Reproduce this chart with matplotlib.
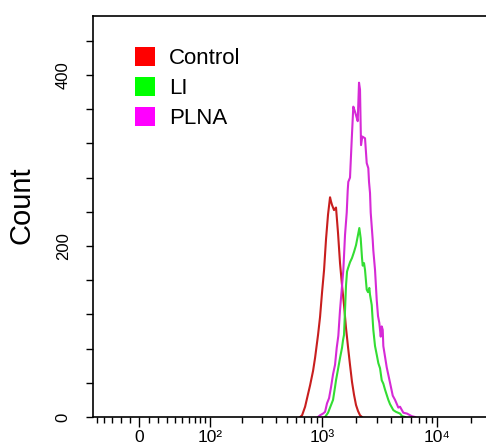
import numpy as np
import matplotlib
matplotlib.use("Agg")
import matplotlib.pyplot as plt
from matplotlib.patches import Patch
from matplotlib.ticker import FixedLocator, NullFormatter

plt.rcParams['font.family'] = ['Liberation Sans', 'DejaVu Sans']

# ---- histogram traces (fluorescence, count) ----
control_x = [647, 673, 715, 759, 790, 839, 873, 927, 965, 1005, 1046, 1088, 1133,
             1179, 1203, 1227, 1277, 1329, 1384, 1440, 1499, 1560, 1624, 1690,
             1759, 1831, 1906, 1984, 2065, 2149, 2237]
control_y = [0, 2, 12, 27, 37, 54, 69, 96, 117, 146, 172, 208, 237,
             257, 252, 248, 242, 245, 215, 180, 154, 131, 104, 82,
             61, 41, 26, 14, 7, 2, 0]

li_x = [1067, 1133, 1203, 1252, 1303, 1329, 1384, 1440, 1499, 1530, 1560, 1592,
        1624, 1657, 1690, 1759, 1831, 1906, 1984, 2065, 2120, 2179, 2237, 2268,
        2329, 2376, 2458, 2523, 2590, 2626, 2717, 2805, 2903, 3003, 3102, 3209,
        3320, 3428, 3547, 3790, 3921, 4189, 4421, 4790, 4985, 5295]
li_y = [0, 5, 14, 20, 35, 43, 56, 69, 81, 90, 96, 125,
        154, 170, 174, 181, 186, 193, 201, 213, 221, 209, 186, 177,
        180, 172, 149, 146, 151, 143, 131, 102, 83, 73, 63, 57,
        43, 39, 32, 20, 15, 8, 6, 4, 1, 0]

plna_x = [927, 965, 1025, 1067, 1110, 1156, 1203, 1252, 1303, 1348, 1392, 1440,
          1490, 1539, 1592, 1647, 1680, 1700, 1759, 1820, 1879, 1945, 2012, 2053,
          2107, 2149, 2193, 2251, 2376, 2458, 2538, 2574, 2626, 2663, 2772, 2805,
          2903, 3003, 3083, 3164, 3254, 3320, 3387, 3428, 3670, 3921, 4139, 4334,
          4630, 4790, 5117, 5510, 6053, 6467]
plna_y = [0, 2, 4, 6, 16, 22, 35, 50, 61, 81, 95, 125,
          149, 172, 213, 239, 265, 275, 280, 324, 363, 357, 350, 346,
          391, 383, 318, 328, 326, 297, 291, 275, 262, 239, 207, 195,
          172, 137, 118, 110, 94, 106, 102, 83, 58, 40, 25, 20,
          11, 12, 5, 4, 1, 0]

series_labels = ['Control', 'LI', 'PLNA']
line_colors = ['#c81e1e', '#33dd33', '#d62ad6']
patch_colors = ['#ff0000', '#00ff00', '#ff00ff']

x_major = [0, 100, 1000, 10000]
x_major_labels = ['0', '10\u00b2', '10\u00b3', '10\u2074']
x_minor = [-50, -40, -30, -20, -10, 10, 20, 30, 40, 50, 60, 70, 80, 90,
           200, 300, 400, 500, 600, 700, 800, 900,
           2000, 3000, 4000, 5000, 6000, 7000, 8000, 9000, 20000]
y_major = [0, 200, 400]
y_minor = [40, 80, 120, 160, 240, 280, 320, 360, 440]

# biexponential-like display scale (arcsinh)
C = 52.0
def fwd(v):
    return np.arcsinh(np.asarray(v, dtype=float) / C) / np.log(10)
def inv(v):
    return C * np.sinh(np.asarray(v, dtype=float) * np.log(10))

fig = plt.figure(figsize=(4.86, 4.46), dpi=100)
ax = fig.add_axes([93 / 486, 29 / 446, 1 - 93 / 486, 401 / 446])
ax.set_xscale('function', functions=(fwd, inv))

for xs, ys, col, lab in zip([control_x, li_x, plna_x], [control_y, li_y, plna_y],
                            line_colors, series_labels):
    ax.plot(xs, ys, color=col, lw=1.5, label=lab)

ax.set_xlim(-55.7, 26780)
ax.set_ylim(0, 469)

ax.xaxis.set_major_locator(FixedLocator(x_major))
ax.set_xticklabels(x_major_labels, fontsize=12.5)
ax.xaxis.set_minor_locator(FixedLocator(x_minor))
ax.xaxis.set_minor_formatter(NullFormatter())
ax.tick_params(axis='x', which='major', length=7, width=1, pad=2)
ax.tick_params(axis='x', which='minor', length=4.5, width=1)

ax.yaxis.set_major_locator(FixedLocator(y_major))
ax.yaxis.set_minor_locator(FixedLocator(y_minor))
ax.set_yticklabels([str(v) for v in y_major], fontsize=12, rotation=90, va='center')
ax.tick_params(axis='y', which='both', length=5, width=1, pad=11)

ax.spines['right'].set_visible(False)
for s in ['left', 'top', 'bottom']:
    ax.spines[s].set_linewidth(1.2)

ax.set_ylabel('Count', fontsize=21, ha='center', va='center')
ax.yaxis.set_label_coords(-0.181, 0.529)

handles = [Patch(facecolor=c, edgecolor='none') for c in patch_colors]
ax.legend(handles, series_labels, loc='upper left', bbox_to_anchor=(0.107, 0.922),
          frameon=False, fontsize=16, handlelength=0.9, handleheight=0.9,
          handletextpad=0.62, labelspacing=0.36, borderpad=0, borderaxespad=0)

fig.savefig('out.png', dpi=100)
